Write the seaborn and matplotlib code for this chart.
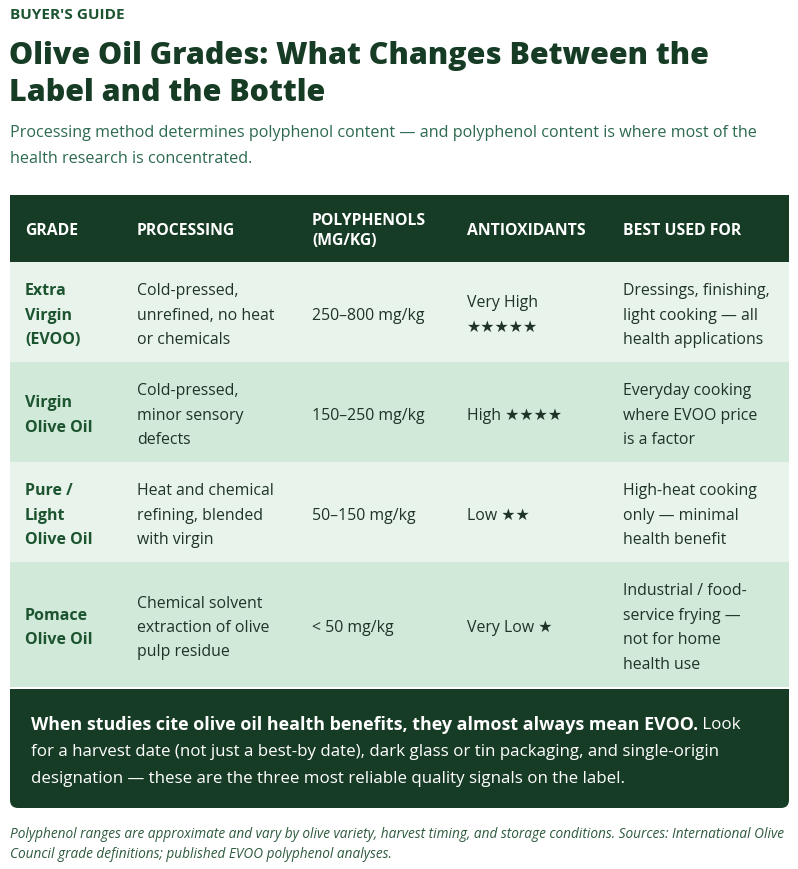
import matplotlib
matplotlib.use("Agg")
import matplotlib.pyplot as plt
from matplotlib.patches import Rectangle, FancyBboxPatch
import seaborn as sns

sns.set_theme(style="white")
FAM = ['Open Sans', 'DejaVu Sans']
plt.rcParams['font.family'] = FAM

# ---- data ----
eyebrow = "BUYER'S GUIDE"
title_lines = ["Olive Oil Grades: What Changes Between the", "Label and the Bottle"]
subtitle_lines = ["Processing method determines polyphenol content \u2014 and polyphenol content is where most of the",
                  "health research is concentrated."]
headers = ["GRADE", "PROCESSING", "POLYPHENOLS\n(MG/KG)", "ANTIOXIDANTS", "BEST USED FOR"]
grades = ["Extra\nVirgin\n(EVOO)", "Virgin\nOlive Oil", "Pure /\nLight\nOlive Oil", "Pomace\nOlive Oil"]
processing = ["Cold-pressed,\nunrefined, no heat\nor chemicals",
              "Cold-pressed,\nminor sensory\ndefects",
              "Heat and chemical\nrefining, blended\nwith virgin",
              "Chemical solvent\nextraction of olive\npulp residue"]
polyphenols = ["250\u2013800 mg/kg", "150\u2013250 mg/kg", "50\u2013150 mg/kg", "< 50 mg/kg"]
antioxidants = ["Very High\n\u2605\u2605\u2605\u2605\u2605", "High \u2605\u2605\u2605\u2605",
                "Low \u2605\u2605", "Very Low \u2605"]
best_used = ["Dressings, finishing,\nlight cooking \u2014 all\nhealth applications",
             "Everyday cooking\nwhere EVOO price\nis a factor",
             "High-heat cooking\nonly \u2014 minimal\nhealth benefit",
             "Industrial / food-\nservice frying \u2014\nnot for home\nhealth use"]
callout_bold = "When studies cite olive oil health benefits, they almost always mean EVOO."
callout_rest = [" Look",
                "for a harvest date (not just a best-by date), dark glass or tin packaging, and single-origin",
                "designation \u2014 these are the three most reliable quality signals on the label."]
footnote_lines = ["Polyphenol ranges are approximate and vary by olive variety, harvest timing, and storage conditions. Sources: International Olive",
                  "Council grade definitions; published EVOO polyphenol analyses."]

# ---- layout ----
W, H = 798, 869
DARK = "#173c25"
ROW_COLORS = ["#e8f4eb", "#d0e9d8"]
GRADE_C = "#1d5430"
BODY_C = "#1f3326"
SUB_C = "#2d6a4f"
FOOT_C = "#2d5a3d"
DY = 2  # visual centring offset

fig = plt.figure(figsize=(W / 100, H / 100), dpi=100)
ax = fig.add_axes([0, 0, 1, 1])
ax.set_xlim(0, W)
ax.set_ylim(H, 0)
ax.axis("off")
renderer = fig.canvas.get_renderer()


def fit_size(text, target_px, weight="normal", style="normal"):
    t = ax.text(0, 0, text, fontsize=10, weight=weight, style=style)
    w = t.get_window_extent(renderer).width
    t.remove()
    return 10 * target_px / w


def lines_at(x, yc, text, size, color, pitch, weight="normal", style="normal"):
    parts = text.split("\n")
    n = len(parts)
    for i, p in enumerate(parts):
        y = yc + (i - (n - 1) / 2) * pitch + DY
        ax.text(x, y, p, fontsize=size, color=color, weight=weight, style=style,
                ha="left", va="center")


# fitted sizes (points)
S_TITLE = fit_size(title_lines[0], 702, weight=800)
S_SUB = fit_size(subtitle_lines[0], 747)
S_BODY = fit_size("Dressings, finishing,", 148)
S_GRADE = fit_size("Olive Oil", 68, weight="bold")
S_HEAD = fit_size("ANTIOXIDANTS", 119, weight="bold")
S_CALL = fit_size(callout_rest[1], 689)
S_CALLB = fit_size(callout_bold, 670, weight="bold")
S_FOOT = fit_size(footnote_lines[0], 775, style="italic")
S_EYE = fit_size(eyebrow, 114, weight="bold")

# header text
ax.text(10, 13 + DY, eyebrow, fontsize=S_EYE, weight="bold", color="#1d5430", va="center", ha="left")
for i, t in enumerate(title_lines):
    ax.text(9, 53 + i * 37 + 3, t, fontsize=S_TITLE, weight=800, color=DARK, va="center", ha="left")
for i, t in enumerate(subtitle_lines):
    ax.text(10, 131 + i * 26 + DY, t, fontsize=S_SUB, color=SUB_C, va="center", ha="left")

# table
left, right = 10, 789
col_x = [25, 137, 312, 467, 623]
head_top, head_bot = 195, 262
row_bounds = [262, 362, 462, 562, 687]

ax.add_patch(Rectangle((left, head_top), right - left, head_bot - head_top, color=DARK, lw=0))
for j, h in enumerate(headers):
    lines_at(col_x[j], 229, h, S_HEAD, "white", 20, weight="bold")

pitch = 24.5
for i in range(len(grades)):
    top, bot = row_bounds[i], row_bounds[i + 1]
    ax.add_patch(Rectangle((left, top), right - left, bot - top, color=ROW_COLORS[i % 2], lw=0))
    yc = (top + bot) / 2 + 1.5
    lines_at(col_x[0], yc, grades[i], S_GRADE, GRADE_C, pitch, weight="bold")
    lines_at(col_x[1], yc, processing[i], S_BODY, BODY_C, pitch)
    lines_at(col_x[2], yc, polyphenols[i], S_BODY, BODY_C, pitch)
    lines_at(col_x[3], yc, antioxidants[i], S_BODY, BODY_C, pitch)
    lines_at(col_x[4], yc, best_used[i], S_BODY, BODY_C, pitch)

# callout box
cb_top, cb_bot = 689, 808
ax.add_patch(FancyBboxPatch((left, cb_top), right - left, cb_bot - cb_top,
                            boxstyle="round,pad=0,rounding_size=8", color=DARK, lw=0))
ax.add_patch(Rectangle((left, cb_top), right - left, 20, color=DARK, lw=0))
tb = ax.text(31, 723 + DY, callout_bold, fontsize=S_CALLB, weight="bold", color="white", va="center", ha="left")
bb = tb.get_window_extent(renderer)
x_end = ax.transData.inverted().transform((bb.x1, bb.y0))[0]
ax.text(x_end, 723 + DY, callout_rest[0], fontsize=S_CALL, color="white", va="center", ha="left")
ax.text(31, 750 + DY, callout_rest[1], fontsize=S_CALL, color="white", va="center", ha="left")
ax.text(31, 777 + DY, callout_rest[2], fontsize=S_CALL, color="white", va="center", ha="left")

for i, t in enumerate(footnote_lines):
    ax.text(10, 832 + i * 21 + DY, t, fontsize=S_FOOT, style="italic", color=FOOT_C, va="center", ha="left")

fig.savefig("out.png", dpi=100, facecolor="white")
